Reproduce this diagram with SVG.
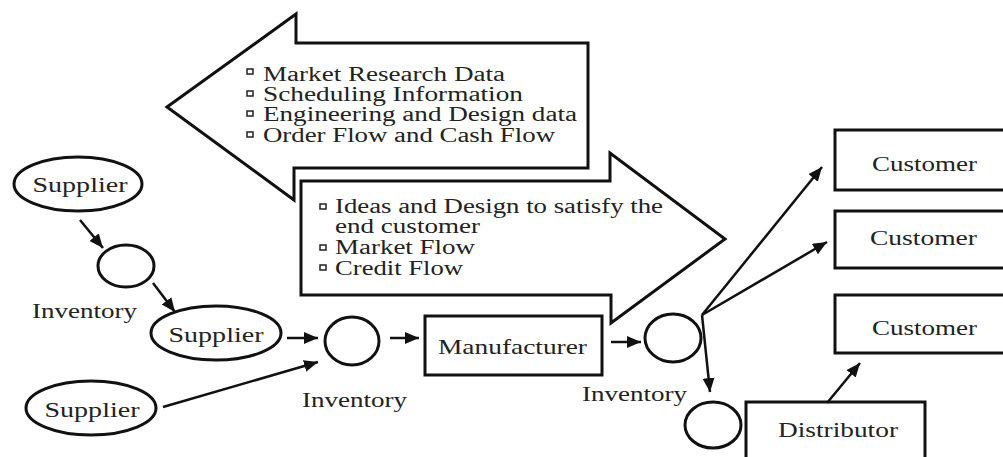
<svg xmlns="http://www.w3.org/2000/svg" width="1003" height="457" viewBox="0 0 1003 457">
<style>
.shape{fill:#fff;stroke:#111;stroke-width:3}
.conn{stroke:#111;stroke-width:2.5;fill:none;marker-end:url(#ah)}
.t{font-family:"Liberation Serif","Times New Roman",serif;font-size:22px;fill:#222}
.l{font-size:20px}
.c{text-anchor:middle}
.b{fill:#fff;stroke:#222;stroke-width:1.5}
</style>
<defs>
<marker id="ah" markerUnits="userSpaceOnUse" markerWidth="16" markerHeight="14" refX="14" refY="6" orient="auto">
<path d="M0,0 L14,6 L0,12 z" fill="#111"/>
</marker>
</defs>
<rect width="1003" height="457" fill="#fff"/>

<g id="arrow-left">
<path class="shape" d="M167,107 L296,14 L296,43 L588,43 L588,168 L294,168 L294,200 Z"/>
<rect class="b" x="247" y="69" width="6" height="5"/>
<rect class="b" x="247" y="91" width="6" height="5"/>
<rect class="b" x="247" y="111" width="6" height="5"/>
<rect class="b" x="247" y="132" width="6" height="5"/>
<text class="t l" x="263" y="81" textLength="242" lengthAdjust="spacingAndGlyphs">Market Research Data</text>
<text class="t l" x="263" y="101" textLength="260" lengthAdjust="spacingAndGlyphs">Scheduling Information</text>
<text class="t l" x="263" y="121" textLength="314" lengthAdjust="spacingAndGlyphs">Engineering and Design data</text>
<text class="t l" x="263" y="142" textLength="292" lengthAdjust="spacingAndGlyphs">Order Flow and Cash Flow</text>
</g>

<g id="arrow-right">
<path class="shape" d="M301,181 L610,181 L610,153 L725,239 L611,323 L611,295 L301,295 Z"/>
<rect class="b" x="320" y="204" width="6" height="5"/>
<rect class="b" x="320" y="245" width="6" height="5"/>
<rect class="b" x="320" y="265" width="6" height="5"/>
<text class="t l" x="335" y="213" textLength="328" lengthAdjust="spacingAndGlyphs">Ideas and Design to satisfy the</text>
<text class="t l" x="335" y="233" textLength="145" lengthAdjust="spacingAndGlyphs">end customer</text>
<text class="t l" x="335" y="254" textLength="140" lengthAdjust="spacingAndGlyphs">Market Flow</text>
<text class="t l" x="335" y="275" textLength="128" lengthAdjust="spacingAndGlyphs">Credit Flow</text>
</g>

<g id="supplier1">
<ellipse class="shape" cx="78" cy="184" rx="64" ry="27"/>
<text class="t c" x="80" y="192" textLength="95" lengthAdjust="spacingAndGlyphs">Supplier</text>
</g>
<g id="inventory1">
<ellipse class="shape" cx="126" cy="266" rx="28" ry="21"/>
<text class="t" x="32" y="318" textLength="105" lengthAdjust="spacingAndGlyphs">Inventory</text>
</g>
<g id="supplier2">
<ellipse class="shape" cx="216" cy="333" rx="65" ry="27"/>
<text class="t c" x="216" y="342" textLength="95" lengthAdjust="spacingAndGlyphs">Supplier</text>
</g>
<g id="supplier3">
<ellipse class="shape" cx="91" cy="408" rx="65" ry="27"/>
<text class="t c" x="92" y="417" textLength="95" lengthAdjust="spacingAndGlyphs">Supplier</text>
</g>
<g id="inventory2">
<ellipse class="shape" cx="352" cy="341" rx="27" ry="24"/>
<text class="t" x="302" y="407" textLength="105" lengthAdjust="spacingAndGlyphs">Inventory</text>
</g>
<g id="manufacturer">
<rect class="shape" x="425" y="316" width="177" height="59"/>
<text class="t" x="438" y="354" textLength="149" lengthAdjust="spacingAndGlyphs">Manufacturer</text>
</g>
<g id="inventory3">
<ellipse class="shape" cx="673" cy="338" rx="28" ry="24"/>
<text class="t" x="582" y="401" textLength="105" lengthAdjust="spacingAndGlyphs">Inventory</text>
</g>
<g id="inventory4">
<ellipse class="shape" cx="713" cy="425" rx="28" ry="23"/>
</g>
<g id="distributor">
<rect class="shape" x="746" y="402" width="179" height="70"/>
<text class="t" x="778" y="437" textLength="120" lengthAdjust="spacingAndGlyphs">Distributor</text>
</g>
<g id="customer1">
<rect class="shape" x="835" y="130" width="180" height="60"/>
<text class="t" x="872" y="171" textLength="105" lengthAdjust="spacingAndGlyphs">Customer</text>
</g>
<g id="customer2">
<rect class="shape" x="835" y="211" width="180" height="57"/>
<text class="t" x="870" y="245" textLength="107" lengthAdjust="spacingAndGlyphs">Customer</text>
</g>
<g id="customer3">
<rect class="shape" x="835" y="295" width="180" height="58"/>
<text class="t" x="872" y="335" textLength="105" lengthAdjust="spacingAndGlyphs">Customer</text>
</g>

<g id="connectors">
<line class="conn" x1="80" y1="220" x2="103" y2="248"/>
<line class="conn" x1="153" y1="283" x2="175" y2="312"/>
<line class="conn" x1="287" y1="338" x2="318" y2="338"/>
<line class="conn" x1="163" y1="407" x2="318" y2="362"/>
<line class="conn" x1="390" y1="338" x2="419" y2="338"/>
<line class="conn" x1="611" y1="342" x2="641" y2="342"/>
<line class="conn" x1="702" y1="315" x2="710" y2="392"/>
<line class="conn" x1="702" y1="315" x2="822" y2="167"/>
<line class="conn" x1="702" y1="315" x2="827" y2="242"/>
<line class="conn" x1="827" y1="403" x2="860" y2="363"/>
</g>
</svg>
